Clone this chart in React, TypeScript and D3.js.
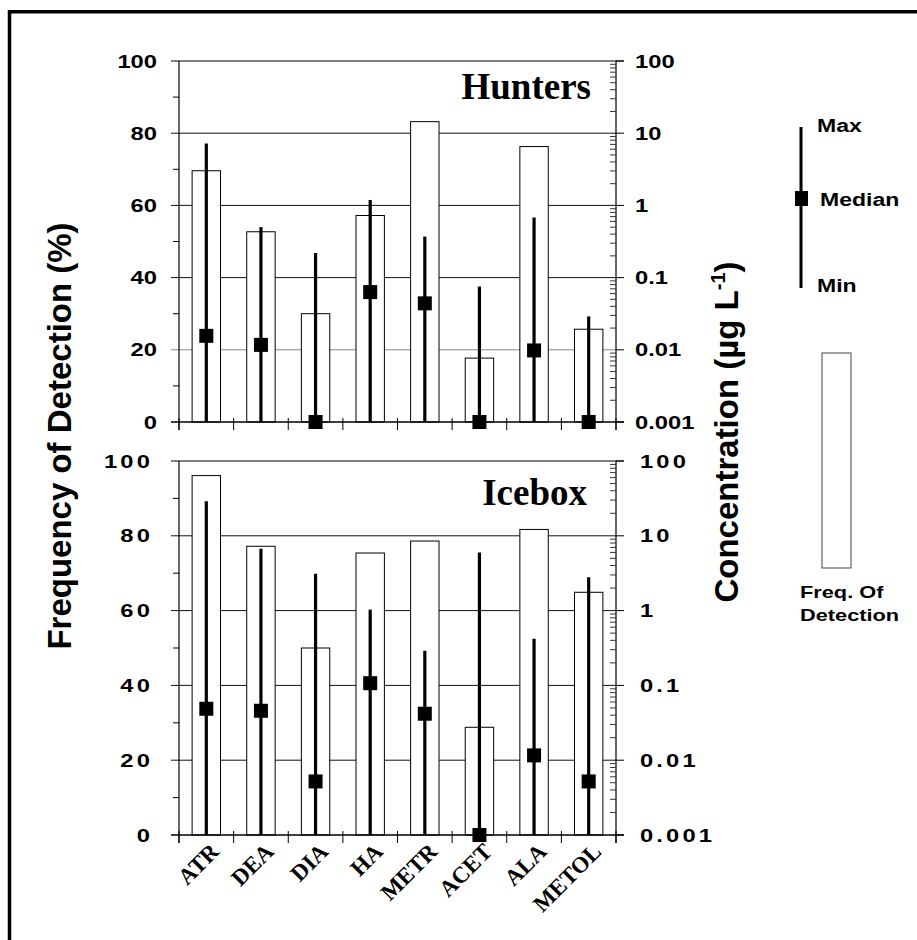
import React from 'react'
import * as d3 from 'd3'

// herbicide categories, shared by both panels
const categories = ['ATR', 'DEA', 'DIA', 'HA', 'METR', 'ACET', 'ALA', 'METOL']
const freqTicks = [0, 20, 40, 60, 80, 100]
const concTicks = [0.001, 0.01, 0.1, 1, 10, 100]
const concTickLabels = ['0.001', '0.01', '0.1', '1', '10', '100']

// Hunters site
const huntersFreq = [69.6, 52.7, 30.0, 57.2, 83.2, 17.7, 76.3, 25.7]
const huntersMax = [7.2, 0.5, 0.22, 1.19, 0.37, 0.075, 0.68, 0.029]
const huntersMedian = [0.0156, 0.0117, 0.001, 0.063, 0.044, 0.001, 0.0098, 0.001]
const huntersMin = [0.001, 0.001, 0.001, 0.001, 0.001, 0.001, 0.001, 0.001]

// Icebox site
const iceboxFreq = [96.1, 77.2, 50.0, 75.4, 78.6, 28.8, 81.7, 64.9]
const iceboxMax = [29, 6.7, 3.1, 1.03, 0.29, 6.0, 0.42, 2.8]
const iceboxMedian = [0.0487, 0.0458, 0.0052, 0.107, 0.0418, 0.001, 0.0116, 0.0052]
const iceboxMin = [0.001, 0.001, 0.001, 0.001, 0.001, 0.001, 0.001, 0.001]

const sans = '"Liberation Sans", Arial, Helvetica, sans-serif'
const serif = '"Liberation Serif", "Times New Roman", serif'

const plotLeft = 179
const plotRight = 616

const x = d3.scaleBand().domain(categories).range([plotLeft, plotRight]).padding(0)

// horizontally stretched bold sans text, like the original export
function SText(props) {
    const { x, y, anchor = 'start', size = 19, stretch = 1.25, spacing = 0, children } = props
    return (
        <text transform={`translate(${x},${y}) scale(${stretch},1)`} textAnchor={anchor}
            fontSize={size} fontWeight="bold" fontFamily={sans} letterSpacing={spacing}>
            {children}
        </text>
    )
}

function Panel(props) {
    const { top, bottom, title, titleX, titleY, freq, maxes, medians, mins, spacing, leftLabelX, rightLabelX } = props
    const y = d3.scaleLinear().domain([0, 100]).range([bottom, top])
    const yc = d3.scaleLog().domain([0.001, 100]).range([bottom, top])
    const barW = x.bandwidth() * 0.52
    const minorFreq = d3.range(10, 100, 20)
    const minorConc = concTicks.slice(0, -1).flatMap(d => d3.range(2, 10).map(k => d * k))
    const bounds = categories.map(c => x(c)).concat([plotRight])
    const sq = 14

    return (
        <g>
            {/* grid */}
            {freqTicks.filter(d => d > 0 && d < 100).map(d => (
                <line key={'g' + d} x1={plotLeft - 8} x2={plotRight} y1={y(d)} y2={y(d)}
                    stroke={title === 'Hunters' && d === 20 ? '#888' : '#111'} strokeWidth={1} />
            ))}
            {/* frequency bars */}
            {categories.map((c, i) => (
                <rect key={'b' + c} x={x(c) + (x.bandwidth() - barW) / 2} y={y(freq[i])}
                    width={barW} height={bottom - y(freq[i])} fill="white" stroke="#000" strokeWidth={1} />
            ))}
            {/* frame */}
            <line x1={plotLeft - 8} x2={plotRight + 8} y1={top} y2={top} stroke="#000" strokeWidth={1.2} />
            <line x1={plotLeft - 8} x2={plotRight + 8} y1={bottom} y2={bottom} stroke="#000" strokeWidth={1.5} />
            <line x1={plotLeft} x2={plotLeft} y1={top} y2={bottom + 8} stroke="#000" strokeWidth={1.2} />
            <line x1={plotRight} x2={plotRight} y1={top} y2={bottom + 8} stroke="#000" strokeWidth={1.2} />
            {minorFreq.map(d => (
                <line key={'mf' + d} x1={plotLeft - 6} x2={plotLeft} y1={y(d)} y2={y(d)} stroke="#000" />
            ))}
            {concTicks.map(d => (
                <line key={'rc' + d} x1={plotRight} x2={plotRight + 8} y1={yc(d)} y2={yc(d)} stroke="#000" />
            ))}
            {minorConc.map(d => (
                <line key={'mc' + d} x1={plotRight - 6} x2={plotRight} y1={yc(d)} y2={yc(d)} stroke="#333" />
            ))}
            {bounds.map((b, i) => (
                <line key={'xt' + i} x1={b} x2={b} y1={bottom - 4} y2={bottom + 8} stroke="#000" />
            ))}
            {/* min-max lines and medians */}
            {categories.map((c, i) => {
                const cx = x(c) + x.bandwidth() / 2
                return (
                    <g key={'e' + c}>
                        <line x1={cx} x2={cx} y1={yc(mins[i])} y2={yc(maxes[i])} stroke="#000" strokeWidth={3.2} />
                        <rect x={cx - sq / 2} y={yc(medians[i]) - sq / 2} width={sq} height={sq} fill="#000" />
                    </g>
                )
            })}
            {/* tick labels */}
            {freqTicks.map(d => (
                <SText key={'lf' + d} x={leftLabelX} y={y(d) + 6.5} anchor="end" spacing={spacing}>{d}</SText>
            ))}
            {concTicks.map((d, i) => (
                <SText key={'lc' + d} x={rightLabelX} y={yc(d) + 6.5} spacing={spacing}>{concTickLabels[i]}</SText>
            ))}
            <text x={titleX} y={titleY} textAnchor="end" fontFamily={serif} fontWeight="bold" fontSize={37}>{title}</text>
        </g>
    )
}

export default function App() {
    return (
        <div style={{ position: 'absolute', left: 0, top: 0, background: 'white' }}>
            <svg width={917} height={940} style={{ display: 'block' }}>
                <rect x={0} y={0} width={917} height={940} fill="white" />
                <path d="M9.5,940 V11.7 H917" fill="none" stroke="#000" strokeWidth={3.5} />

                <Panel top={61} bottom={422} title="Hunters" titleX={591} titleY={99}
                    freq={huntersFreq} maxes={huntersMax} medians={huntersMedian} mins={huntersMin}
                    spacing={0} leftLabelX={157} rightLabelX={635} />
                <Panel top={461} bottom={835} title="Icebox" titleX={587} titleY={505}
                    freq={iceboxFreq} maxes={iceboxMax} medians={iceboxMedian} mins={iceboxMin}
                    spacing={2.5} leftLabelX={153} rightLabelX={640} />

                {/* category labels */}
                {categories.map(c => (
                    <text key={'xl' + c} transform={`translate(${x(c) + x.bandwidth() / 2 + 14},853) rotate(-45)`}
                        textAnchor="end" fontFamily={serif} fontWeight="bold" fontSize={23}>{c}</text>
                ))}

                {/* axis titles */}
                <text transform="translate(71,436) rotate(-90)" textAnchor="middle" fontFamily={sans}
                    fontWeight="bold" fontSize={33}>Frequency of Detection (%)</text>
                <text transform="translate(738,432) rotate(-90)" textAnchor="middle" fontFamily={sans}
                    fontWeight="bold" fontSize={33}>
                    Concentration (µg L<tspan dy={-13} fontSize={20}>-1</tspan><tspan dy={13}>)</tspan>
                </text>

                {/* legend */}
                <line x1={801} x2={801} y1={127} y2={288} stroke="#000" strokeWidth={3} />
                <rect x={795} y={191} width={13} height={15} fill="#000" />
                <SText x={817} y={132} size={18} stretch={1.28}>Max</SText>
                <SText x={820} y={206} size={18} stretch={1.28}>Median</SText>
                <SText x={817} y={292} size={18} stretch={1.28}>Min</SText>
                <rect x={822} y={353} width={29} height={215} fill="white" stroke="#444" strokeWidth={1} />
                <SText x={800} y={598} size={17} stretch={1.28}>Freq. Of</SText>
                <SText x={800} y={621} size={17} stretch={1.28}>Detection</SText>
            </svg>
        </div>
    )
}
